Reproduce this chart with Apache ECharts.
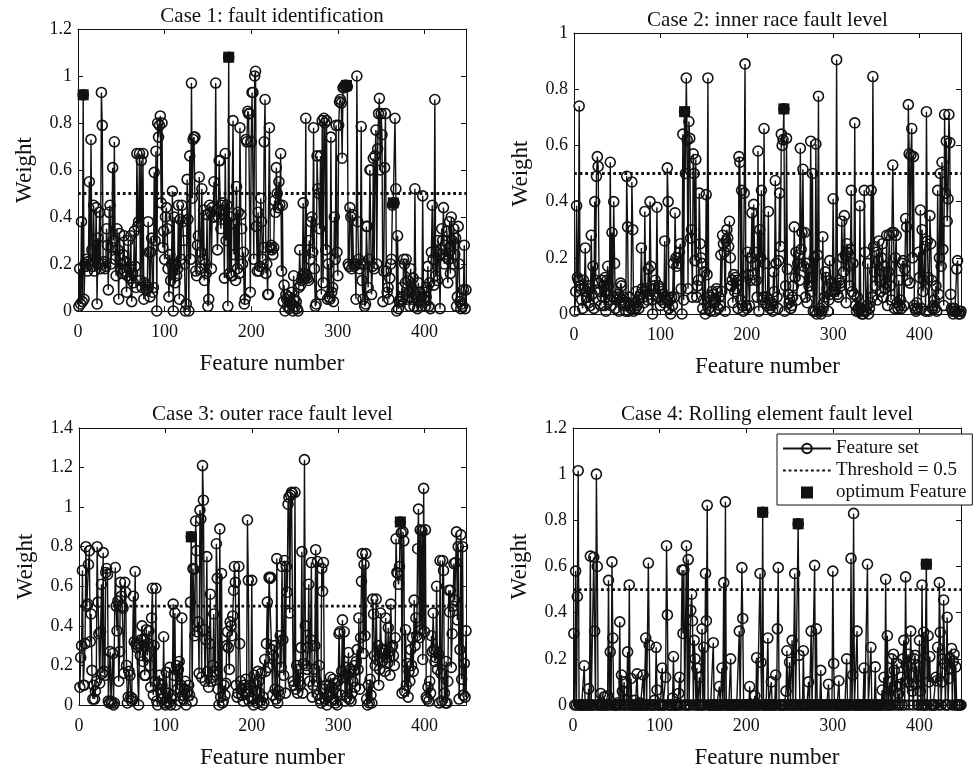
<!DOCTYPE html>
<html>
<head>
<meta charset="utf-8">
<title>Feature weights</title>
<script src="https://cdn.jsdelivr.net/npm/echarts@6/dist/echarts.min.js"></script>
<style>
  html, body { margin: 0; padding: 0; background: #fff; }
  #main { width: 977px; height: 770px; }
</style>
</head>
<body>
<div id="main"></div>
<script>
// titles of the four cases
const caseTitles = [
  'Case 1: fault identification',
  'Case 2: inner race fault level',
  'Case 3: outer race fault level',
  'Case 4: Rolling element fault level'
];
const seriesNames = ['Feature set', 'Threshold = 0.5', 'optimum Feature'];
const threshold = 0.5;
const featureMax = 448;
const xTickStep = 100;
const yTickStep = 0.2;
const yMaxes = [1.2, 1, 1.4, 1.2];

// weight of each feature (feature number = position + 1), 16 per line
const case1Weights = [
  .02,.18,.03,.38,.04,.92,.05,.2,.19,.22,.17,.21,.55,.2,.73,.26,
  .19,.45,.17,.21,.44,.03,.31,.2,.42,.18,.93,.79,.2,.21,.18,.19,
  .35,.28,.09,.42,.45,.2,.27,.61,.3,.72,.22,.15,.35,.26,.05,.33,
  .18,.2,.16,.24,.32,.17,.21,.08,.15,.3,.18,.14,.32,.04,.16,.12,
  .34,.19,.1,.67,.36,.38,.67,.13,.64,.1,.67,.05,.12,.11,.09,.1,
  .38,.25,.06,.25,.31,.08,.1,.59,.3,.68,0,.8,.74,.79,.83,.46,
  .8,.27,.34,.22,.4,.44,.35,.18,.06,.24,.13,.2,.51,0,.4,.12,
  .2,.15,.18,.45,.05,.39,.22,.45,.38,.3,.2,0,.03,.56,.39,0,
  .66,.22,.97,.48,.73,.74,.74,.17,.15,.28,.32,.57,.18,.25,.52,.22,
  .43,.13,.2,.16,.41,.02,.05,.45,.42,.18,.44,.4,.55,.4,.97,.43,
  .26,.4,.64,.64,.35,.45,.46,.43,.14,.67,.3,.45,.02,1.08,.16,.4,
  .15,.15,.81,.24,.37,.13,.53,.18,.42,.16,.78,.41,.35,.2,.25,.03,
  .05,.73,.72,.85,.84,.84,.08,.72,.93,.93,.22,1.0,1.02,.36,.17,.42,
  .17,.19,.48,.38,.22,.27,.72,.9,.16,.2,.07,.07,.78,.27,.28,.26,
  .24,.27,.47,.42,.61,.5,.44,.55,.45,.67,.17,.45,.04,.11,0,.07,
  .05,.02,.06,.01,.04,.03,.08,0,.15,.05,.02,.04,.01,0,.1,.26,
  .11,.13,.15,.46,.16,.14,.82,.15,.14,.13,.3,.22,.38,.4,.25,.78,
  .18,.02,.03,.66,.52,.5,.35,.66,.07,.81,.12,.82,.8,.26,.81,.05,
  .2,.06,.05,.74,.08,.1,.04,.4,.22,.79,.25,.15,.79,.89,.9,.885,
  .65,.95,.95,.96,.955,.96,.955,.2,.19,.44,.4,.18,.41,.2,.19,.2,
  .05,1.0,.38,.22,.18,.2,.785,.13,.05,.2,.02,.03,.36,.36,.1,.22,
  .6,.6,.07,.19,.65,.18,.66,.77,.2,.69,.84,.905,.6,.84,.75,.04,
  .17,.61,.84,.17,.08,.1,.05,.14,.2,.22,.45,.46,.46,.82,.52,0,
  .32,.01,.04,.05,.04,.1,.06,.22,.2,.12,.22,.05,.13,.08,.02,.18,
  .1,.05,.14,.02,.52,.07,.06,.01,.12,.04,.08,.06,.02,.49,.05,.08,
  .02,.06,.1,.19,.02,.12,.01,.25,.45,.22,.11,.9,.15,.25,.13,.3,
  .24,.01,.26,.35,.3,.44,.2,.28,.23,.34,.12,.22,.38,.16,.4,.3,
  .2,.35,.24,.31,.02,.06,.36,.2,.04,.01,.03,.02,.09,.28,.01,.09
];
const case2Weights = [
  .01,.08,.385,.13,.12,.74,.1,.09,.05,.02,.12,.09,.235,.08,.06,.1,
  .04,.09,.03,.28,.07,.17,.02,.4,.12,.49,.56,.525,.11,.08,.03,.12,
  .06,.1,.03,.13,.01,.12,.17,.1,.05,.54,.03,.29,.06,.4,.18,.02,
  .06,.05,.07,.01,.06,.11,.1,.05,.06,.03,.04,.01,.49,.31,.01,.06,
  .03,.02,.47,.3,.01,.04,.02,.08,.03,.05,.02,.06,.07,.235,.09,.06,
  .04,.365,.08,.09,.05,.16,.07,.4,.17,.05,0,.09,.1,.12,.07,.38,
  .06,.1,.09,.03,.05,.08,.07,.04,.26,.06,.05,.52,.4,.02,.05,0,
  .06,.03,.18,.06,.36,.2,.17,.2,.18,.22,.25,.09,0,.64,.05,.72,
  .5,.84,.62,.09,.685,.625,.27,.3,.06,.57,.5,.19,.55,.06,.1,.12,
  .43,.25,.2,.18,.02,.05,.15,0,.425,.14,.84,.02,.06,.01,.05,.08,
  .07,.04,.01,.05,.09,.08,.02,.06,.03,.21,.08,.28,.25,.22,.01,.26,
  .3,.27,.24,.33,.2,.1,.12,.04,.14,.08,.13,.09,.12,.02,.56,.54,
  .05,.44,.03,.01,.43,.89,.03,.02,.22,.14,.03,.12,.2,.36,.14,.39,
  .22,.18,.12,.06,.58,.01,.3,.2,.44,.05,.06,.66,.18,.04,.06,.03,
  .365,.05,.02,.03,.04,.01,.15,.08,.475,.18,.06,.02,.19,.43,.24,.64,
  .6,.62,.73,.01,.1,.625,.16,.07,.04,.05,.02,.03,.06,.1,.31,.13,
  .22,.05,.18,.21,.12,.59,.23,.29,.515,.17,.29,.06,.18,.04,.16,.1,
  .13,.615,.08,.5,.01,.2,.01,.605,0,.21,.775,.01,.02,0,.01,.275,
  .04,.06,.15,.13,.09,.01,.05,.19,.07,.11,.08,.41,.09,.08,.1,.905,
  .07,.06,.12,.11,.1,.33,.2,.15,.35,.21,.04,.25,.22,.17,.1,.23,
  .44,.08,.18,.07,.68,.03,.01,.06,.02,.01,.385,.02,0,.01,0,.44,
  .22,.01,.03,.18,0,.02,.04,.44,.06,.845,.24,.15,.1,.22,.05,.19,
  .26,.12,.08,.2,.25,.06,.17,.09,.11,.28,.03,.15,.28,.1,.05,.29,
  .53,.29,.02,.2,.28,.04,.02,.12,.03,.05,.02,.18,.19,.03,.16,.34,
  .31,.12,.745,.57,.11,.565,.66,.2,.56,.03,.02,.01,.04,.02,.22,.13,
  .37,.02,.3,.08,.12,.24,.01,.72,.26,.13,.01,.35,.25,.12,.02,.03,
  .05,.02,.1,.01,.44,.07,.2,.5,.17,.54,.23,.03,.71,.43,.615,.33,
  .41,.71,.61,.07,.02,.01,0,.02,.01,.01,.16,.19,0,.01,0,.01
];
const case3Weights = [
  .09,.24,.3,.68,.1,.1,.31,.8,.5,.51,.71,.78,.32,.46,.175,.03,
  .1,.03,.07,.12,.8,.52,.36,.11,.37,.61,.16,.77,.17,.15,.67,.69,
  .66,.02,.01,.27,.02,.01,.26,0,.01,.695,.5,.375,.525,.12,.27,.62,
  .55,.5,.49,.16,.62,.57,.2,.01,.04,.17,.15,.04,.02,.03,.55,.32,
  .675,.31,.29,.3,0,.31,.25,.33,.4,.22,.33,.15,.15,.38,.25,.31,
  .375,.2,.09,.44,.59,.05,.3,.12,.59,.02,0,.11,.15,.08,.06,.1,
  .03,.345,.01,0,.165,.02,.06,.01,.19,0,.03,.05,.51,.15,.465,0,
  .2,.08,.18,.22,.02,.1,.44,.05,.03,.08,.12,0,.06,.07,.1,.05,
  .52,.85,.02,.69,.685,.35,.93,.78,.37,.42,.16,.985,.94,.14,1.21,1.035,
  .38,.12,.33,.75,.17,.09,.31,.56,.12,.14,.2,.46,.17,.15,.815,.64,
  .08,0,.89,.04,.665,.01,.02,.1,.05,.11,.3,.37,.29,.18,.42,.4,
  .35,.45,.58,.7,.62,.1,.04,.06,.7,.31,.12,.08,.05,.02,.1,.06,
  .13,.07,.935,.63,.02,.1,.04,.63,.03,0,.15,.11,.07,.01,.17,.12,
  .06,.02,.16,0,.04,.01,.23,.17,.31,.52,.19,.645,.64,.645,.28,.05,
  .25,.3,.08,.03,.74,.01,.07,.05,.35,.19,.7,.33,.15,.73,.06,.7,
  .57,1.015,1.05,.465,1.06,1.075,1.07,.12,.1,1.075,.08,.2,.06,.18,.12,.1,
  .29,.775,.06,.21,1.24,.4,.2,.18,.29,.61,.12,.33,.72,.04,.1,.18,
  .3,.785,.12,.725,.05,.2,.03,.01,.69,.575,.72,.08,.03,.1,0,.04,
  .05,.1,.14,.02,.09,.13,.03,.11,.01,.06,0,.12,.36,.37,.05,.17,
  .43,.14,.37,.02,.19,.04,.15,.265,.03,.18,.02,.06,.12,.17,.2,.09,
  .22,.28,.18,.44,.08,.34,.625,.765,.26,.71,.35,.765,.03,0,.1,.01,
  .13,.05,.01,.535,.46,.25,.2,.535,.23,.3,.1,.18,.465,.28,.22,.26,
  .28,.17,.44,.24,.21,.39,.27,.15,.51,.29,.3,.25,.2,.34,.84,.67,
  .665,.61,.7,.925,.87,.06,.875,.83,.07,.38,.1,.21,.04,.17,.12,.28,
  .2,.34,.17,.53,.3,.44,.35,.79,.99,.34,.885,.38,.88,.23,1.095,.37,
  .885,.04,.03,.09,.02,.12,.06,.35,.27,.465,.28,.22,.24,.6,.18,.26,
  .01,.73,.16,.02,.73,.68,.06,.01,.22,.01,.12,.58,.47,.58,.19,.36,
  .5,.715,.53,.72,.875,.43,.8,.03,.28,.86,.13,.8,.05,.21,.04,.375
];
const case4Weights = [
  .31,0,.58,0,.47,1.015,0,0,0,0,0,0,.17,0,0,0,
  0,.07,0,.645,0,0,0,.64,.32,0,1.0,.6,0,0,0,.05,
  0,0,0,.035,0,0,0,.04,.54,0,.23,0,.62,.29,0,0,
  0,0,0,.01,0,.36,0,.13,.06,0,.1,0,0,.02,.23,0,
  .52,0,.115,0,0,0,.02,0,0,.135,0,0,.01,0,0,0,
  .13,0,0,.29,0,0,.615,.26,0,0,0,0,0,.02,0,.25,
  .065,0,0,0,0,0,.16,0,0,0,.12,.69,.39,0,0,0,
  0,0,.03,.21,0,0,0,0,0,.05,.12,0,0,.585,.31,.585,
  0,0,.69,0,.63,0,0,.41,.48,.365,0,.28,.2,0,.16,0,
  0,.12,0,0,.33,0,.25,0,.57,.365,.865,0,0,0,0,0,
  0,.27,0,0,0,0,0,0,.08,0,0,.16,0,.53,0,.88,
  0,0,0,0,0,.2,0,0,0,0,0,0,0,0,0,.32,
  0,0,.595,.375,0,0,0,0,0,0,0,.08,0,0,0,0,
  0,.04,0,.205,0,0,0,.57,.185,0,.835,0,0,0,0,0,
  .29,0,0,0,.1,0,0,0,0,.13,0,.33,.595,0,0,0,
  0,0,0,0,0,.06,.235,0,0,.185,0,0,.28,0,0,.57,
  0,0,0,.785,.215,0,0,0,0,.235,0,0,0,0,0,.1,
  0,0,.32,0,0,0,.605,0,.33,0,0,0,0,.15,0,0,
  0,0,0,0,0,0,.09,0,0,0,0,.58,.18,0,0,0,
  0,0,.105,0,0,0,0,0,0,0,0,.2,0,0,0,0,
  .635,0,.13,.83,0,0,0,.32,0,0,0,0,0,0,0,.16,
  0,0,0,.61,0,0,0,.25,0,0,0,0,.165,0,0,0,
  0,0,0,0,.065,0,.12,0,.545,0,.3,0,0,.1,0,.2,
  0,.22,.15,0,.08,.18,0,.05,0,.09,.12,0,.2,.28,0,.555,
  .17,.1,.22,0,.13,.32,.085,.06,0,.2,.215,.09,.17,0,0,.28,
  .06,0,.52,0,.315,0,0,.61,0,.3,.1,.21,0,0,0,0,
  0,0,.12,.105,.25,0,.53,.315,0,.1,.2,.455,.18,0,0,.38,
  0,.115,.2,.16,.245,0,.19,.22,0,.165,0,0,0,0,0,0
];

// feature numbers picked as optimum in each case
const case1Optimum = [6, 174, 310, 364];
const case2Optimum = [128, 243];
const case3Optimum = [130, 372];
const case4Optimum = [219, 260, 408];

const allWeights = [case1Weights, case2Weights, case3Weights, case4Weights];
const allOptimum = [case1Optimum, case2Optimum, case3Optimum, case4Optimum];

const font = 'Liberation Serif';
const ink = '#111';

// plot boxes in px: left, top, width, height
const boxes = [[78, 29, 388, 282], [574, 33, 387, 281], [79, 428, 387, 280], [573, 428, 388, 280]];
const titleTops = [6, 10, 404, 404];

const chart = echarts.init(document.getElementById('main'));

const grid = [], xAxis = [], yAxis = [], series = [], title = [];

boxes.forEach((b, i) => {
  grid.push({ left: b[0], top: b[1], width: b[2], height: b[3] });
  title.push({
    text: caseTitles[i],
    left: b[0] + b[2] / 2,
    top: titleTops[i],
    textAlign: 'center',
    padding: 0,
    textStyle: { fontFamily: font, fontSize: 21, fontWeight: 'normal', color: ink }
  });

  const axisCommon = {
    axisLine: { show: true, onZero: false, lineStyle: { color: ink, width: 1 } },
    axisTick: { show: true, inside: true, length: 5, lineStyle: { color: ink } },
    splitLine: { show: false }
  };
  xAxis.push(Object.assign({}, axisCommon, {
    gridIndex: i, type: 'value', min: 0, max: featureMax, interval: xTickStep,
    name: 'Feature number', nameLocation: 'middle', nameGap: 41,
    nameTextStyle: { fontFamily: font, fontSize: 23, color: ink },
    axisLabel: { fontFamily: font, fontSize: 18, color: ink, margin: 12, showMaxLabel: false }
  }));
  xAxis.push(Object.assign({}, axisCommon, {
    gridIndex: i, type: 'value', position: 'top', min: 0, max: featureMax, interval: xTickStep,
    axisLabel: { show: false }
  }));
  yAxis.push(Object.assign({}, axisCommon, {
    gridIndex: i, type: 'value', min: 0, max: yMaxes[i], interval: yTickStep,
    name: 'Weight', nameLocation: 'middle', nameGap: 42,
    nameTextStyle: { fontFamily: font, fontSize: 23, color: ink },
    axisLabel: { fontFamily: font, fontSize: 18, color: ink, margin: 6 }
  }));
  yAxis.push(Object.assign({}, axisCommon, {
    gridIndex: i, type: 'value', position: 'right', min: 0, max: yMaxes[i], interval: yTickStep,
    axisLabel: { show: false }
  }));

  const weights = allWeights[i];
  series.push({
    name: seriesNames[0], type: 'line', xAxisIndex: 2 * i, yAxisIndex: 2 * i,
    data: weights.map((w, k) => [k + 1, w]),
    symbol: 'circle', symbolSize: 10, showAllSymbol: true,
    lineStyle: { color: ink, width: 1.4 },
    itemStyle: { color: 'rgba(255,255,255,0)', borderColor: ink, borderWidth: 1.6 },
    silent: true, z: 2
  });
  series.push({
    name: seriesNames[1], type: 'line', xAxisIndex: 2 * i, yAxisIndex: 2 * i,
    data: [[0, threshold], [featureMax, threshold]],
    symbol: 'none',
    lineStyle: { color: ink, width: 2.8, type: [2.8, 2.8] },
    itemStyle: { color: ink },
    silent: true, z: 3
  });
  series.push({
    name: seriesNames[2], type: 'scatter', xAxisIndex: 2 * i, yAxisIndex: 2 * i,
    data: allOptimum[i].map(f => [f, weights[f - 1]]),
    symbol: 'rect', symbolSize: 11,
    itemStyle: { color: ink, opacity: 1 },
    silent: true, z: 4
  });
});

chart.setOption({
  animation: false,
  backgroundColor: '#fff',
  title: title,
  grid: grid,
  xAxis: xAxis,
  yAxis: yAxis,
  legend: {
    data: [
      { name: seriesNames[0] },
      { name: seriesNames[1], itemStyle: { opacity: 0 } },
      { name: seriesNames[2], icon: 'path://M0,0h10v10h-10z', itemStyle: { color: ink, opacity: 1 } }
    ],
    orient: 'vertical',
    left: 777, top: 434,
    padding: [5, 6, 3, 5],
    itemGap: 3,
    itemWidth: 48, itemHeight: 12,
    selectedMode: false,
    borderColor: ink, borderWidth: 1,
    backgroundColor: '#fff',
    textStyle: { fontFamily: font, fontSize: 19, color: ink, lineHeight: 19 }
  },
  series: series
});
</script>
</body>
</html>
